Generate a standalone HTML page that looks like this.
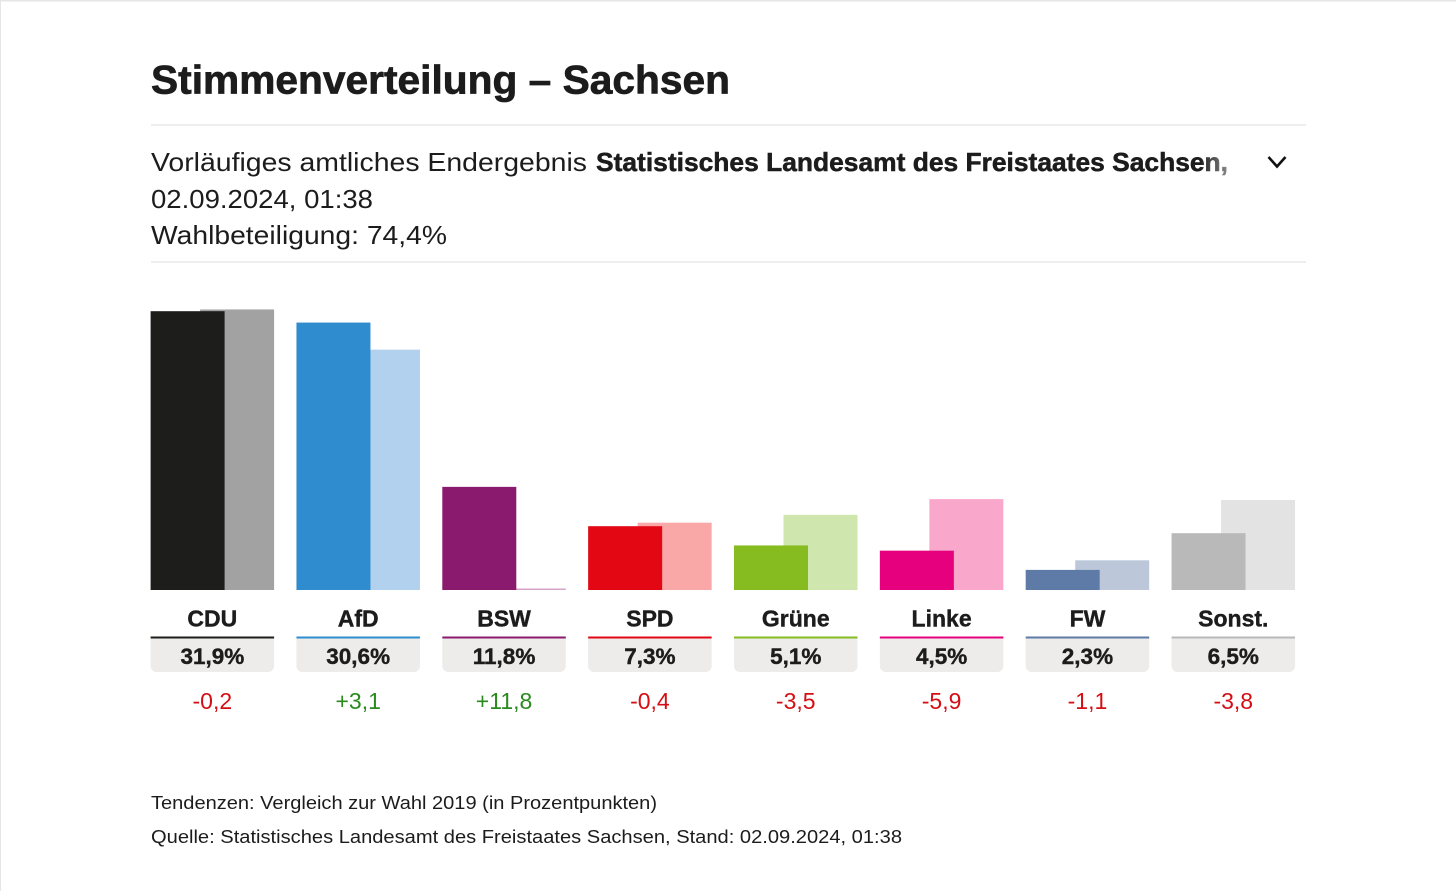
<!DOCTYPE html>
<html lang="de">
<head>
<meta charset="utf-8">
<title>Stimmenverteilung – Sachsen</title>
<style>
html,body{margin:0;padding:0;background:#fff;width:1456px;height:891px;overflow:hidden}
svg{display:block;font-family:"Liberation Sans",sans-serif}
.ink{fill:#1c1c1c}
.rule{stroke:#e4e4e2;stroke-width:1.2}
.party-label{font-size:23px;font-weight:700;text-anchor:middle;fill:#1c1c1c;stroke:#1c1c1c;stroke-width:.4}
.share-label{font-size:22.5px;font-weight:700;text-anchor:middle;fill:#1c1c1c;stroke:#1c1c1c;stroke-width:.4}
.change-label{font-size:23px;text-anchor:middle}
.up{fill:#2a8a1e}.down{fill:#d40f14}
.box{fill:#edecea}
.cur0{fill:#1d1d1b}.pre0{fill:#a2a2a2}
.cur1{fill:#2f8ccf}.pre1{fill:#b1d1ee}
.cur2{fill:#8a1a6e}.pre2{fill:#d6a4c8}
.cur3{fill:#e30613}.pre3{fill:#faa7a7}
.cur4{fill:#86bc20}.pre4{fill:#cfe6ae}
.cur5{fill:#e6007e}.pre5{fill:#f9a8cc}
.cur6{fill:#5d7ba6}.pre6{fill:#bcc8da}
.cur7{fill:#b9b9b9}.pre7{fill:#e3e3e3}
</style>
</head>
<body>
<svg id="chart" xmlns="http://www.w3.org/2000/svg" width="1456" height="891" viewBox="0 0 1456 891">
  <defs>
    <linearGradient id="fade" gradientUnits="userSpaceOnUse" x1="1200" y1="0" x2="1228" y2="0">
      <stop offset="0" stop-color="#1c1c1c"/>
      <stop offset="1" stop-color="#8a8a8a"/>
    </linearGradient>
  </defs>
  <rect x="0" y="0" width="1456" height="1.5" fill="#e6e6e6"/>
  <rect x="0" y="0" width="1" height="891" fill="#e6e6e6"/>
  <text class="ink" x="151" y="93.5" font-size="40" font-weight="700" stroke="#1c1c1c" stroke-width="0.7" textLength="579" lengthAdjust="spacingAndGlyphs">Stimmenverteilung – Sachsen</text>
  <line class="rule" x1="151" y1="125" x2="1306" y2="125"/>
  <text class="ink" x="151" y="171" font-size="26" textLength="436" lengthAdjust="spacingAndGlyphs">Vorläufiges amtliches Endergebnis</text>
  <text x="596" y="171" font-size="26" font-weight="700" fill="url(#fade)" stroke="url(#fade)" stroke-width="0.5" textLength="632" lengthAdjust="spacingAndGlyphs">Statistisches Landesamt des Freistaates Sachsen,</text>
  <polyline points="1268.5,157 1277,166.5 1285.5,157" fill="none" stroke="#111" stroke-width="2.6"/>
  <text class="ink" x="151" y="208" font-size="26" textLength="222" lengthAdjust="spacingAndGlyphs">02.09.2024, 01:38</text>
  <text class="ink" x="151" y="244" font-size="26" textLength="296" lengthAdjust="spacingAndGlyphs">Wahlbeteiligung: 74,4%</text>
  <line class="rule" x1="151" y1="262" x2="1306" y2="262"/>
  <g id="plot"></g>
  <text class="ink" x="151" y="809" font-size="18" textLength="506" lengthAdjust="spacingAndGlyphs">Tendenzen: Vergleich zur Wahl 2019 (in Prozentpunkten)</text>
  <text class="ink" x="151" y="843" font-size="18" textLength="751" lengthAdjust="spacingAndGlyphs">Quelle: Statistisches Landesamt des Freistaates Sachsen, Stand: 02.09.2024, 01:38</text>
</svg>
<script>
const parties = ["CDU", "AfD", "BSW", "SPD", "Grüne", "Linke", "FW", "Sonst."];
const shares = [31.9, 30.6, 11.8, 7.3, 5.1, 4.5, 2.3, 6.5];
const previousShares = [32.1, 27.5, 0, 7.7, 8.6, 10.4, 3.4, 10.3];
const changes = [-0.2, 3.1, 11.8, -0.4, -3.5, -5.9, -1.1, -3.8];

const NS = "http://www.w3.org/2000/svg";
const plot = document.getElementById("plot");
const baseY = 590, unitPx = 8.74;
const groupX = i => 150.6 + i * 145.85;
const groupW = 123.5, barW = 74;
const heightOf = v => Math.max(v * unitPx, 1.5);
const deDecimal = v => v.toFixed(1).replace(".", ",");
const signed = v => (v > 0 ? "+" : "-") + deDecimal(Math.abs(v));

function make(tag, attrs, text) {
  const el = document.createElementNS(NS, tag);
  for (const k in attrs) el.setAttribute(k, attrs[k]);
  if (text !== undefined) el.textContent = text;
  plot.appendChild(el);
  return el;
}

parties.forEach((party, i) => {
  const x = groupX(i), cx = x + groupW / 2;

  const pre = make("rect", {class: "pre" + i, x: x + groupW - barW, y: baseY - heightOf(previousShares[i]), width: barW, height: heightOf(previousShares[i])});
  
  

  const cur = make("rect", {class: "cur" + i, x: x, y: baseY - heightOf(shares[i]), width: barW, height: heightOf(shares[i])});
  
  

  const name = make("text", {class: "party-label", x: cx, y: 626.5}, party);
  
  

  const box = make("path", {class: "box", d: `M${x} 638h${groupW}v28a6 6 0 0 1 -6 6h${-(groupW - 12)}a6 6 0 0 1 -6 -6z`});
  
  

  const accent = make("rect", {class: "cur" + i, x: x, y: 636.5, width: groupW, height: 2});
  
  

  const share = make("text", {class: "share-label", x: cx, y: 664}, deDecimal(shares[i]) + "%");
  
  

  const change = make("text", {class: "change-label " + (changes[i] > 0 ? "up" : "down"), x: cx, y: 709}, signed(changes[i]));
  
  
});
</script>
</body>
</html>
